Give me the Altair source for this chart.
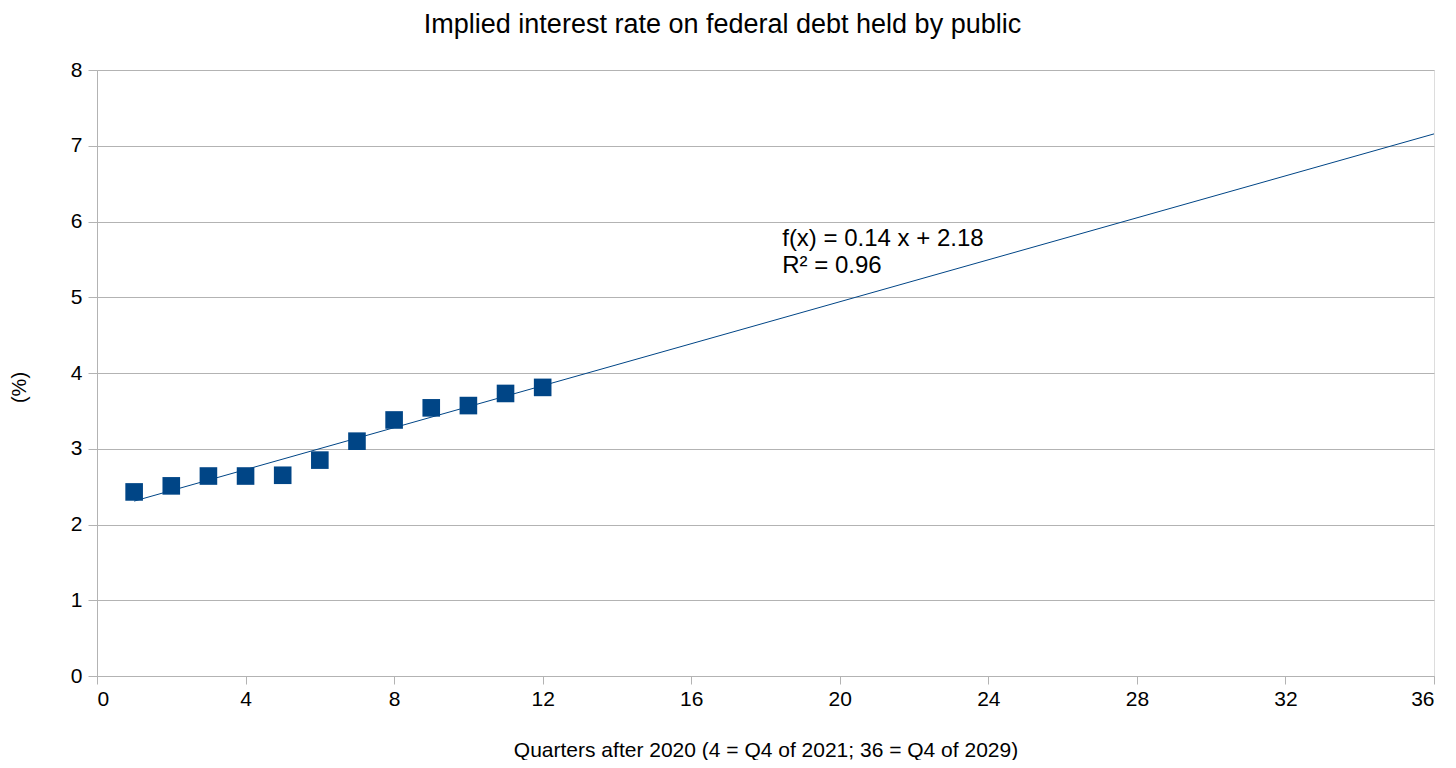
import altair as alt
import pandas as pd

quarters = [1, 2, 3, 4, 5, 6, 7, 8, 9, 10, 11, 12]
rates = [2.43, 2.51, 2.64, 2.64, 2.65, 2.85, 3.10, 3.38, 3.54, 3.57, 3.73, 3.81]

ann_x = [18.45, 18.45]
ann_y = [5.77, 5.41]
ann_text = ["f(x) = 0.14 x + 2.18", "R² = 0.96"]

FONT = "Liberation Sans"
BLUE = "#004586"
GRAY = "#b3b3b3"

df = pd.DataFrame({"q": quarters, "rate": rates})
ann = pd.DataFrame({"x": ann_x, "y": ann_y, "t": ann_text})

xscale = alt.Scale(domain=[0, 36], nice=False, zero=True)
yscale = alt.Scale(domain=[0, 8], nice=False)

xaxis = alt.Axis(
    values=list(range(0, 37, 4)), title="Quarters after 2020 (4 = Q4 of 2021; 36 = Q4 of 2029)",
    format="d", grid=False, tickSize=8, tickColor=GRAY, domainColor=GRAY, labelPadding=4,
    labelFontSize=21, labelFont=FONT, labelColor="black",
    titleFont=FONT, titleFontSize=21, titleFontWeight="normal", titleColor="black",
    titleY=63,
)
yaxis = alt.Axis(
    values=list(range(0, 9)), title="(%)", format="d",
    grid=True, gridColor=GRAY, tickSize=9, tickColor=GRAY, domainColor=GRAY, labelPadding=6,
    labelFontSize=21, labelFont=FONT, labelColor="black",
    titleFont=FONT, titleFontSize=20, titleFontWeight="normal", titleColor="black",
    titleX=-68, titleY=317,
)

points = alt.Chart(df).mark_point(shape="square", filled=True, size=310, color=BLUE, opacity=1).encode(
    x=alt.X("q:Q", scale=xscale, axis=xaxis),
    y=alt.Y("rate:Q", scale=yscale, axis=yaxis),
)

trend = alt.Chart(df).transform_regression("q", "rate", extent=[1, 36]).mark_line(
    color=BLUE, strokeWidth=1
).encode(
    x=alt.X("q:Q", scale=xscale),
    y=alt.Y("rate:Q", scale=yscale),
)

labels = alt.Chart(ann).mark_text(align="left", baseline="middle", font=FONT, fontSize=24, color="black").encode(
    x=alt.X("x:Q", scale=xscale),
    y=alt.Y("y:Q", scale=yscale),
    text="t:N",
)

chart = alt.layer(trend, points, labels).properties(
    width=1337, height=606,
    autosize=alt.AutoSizeParams(type="none"),
    padding={"left": 89, "top": 62, "right": 14, "bottom": 84},
    title=alt.Title(
        "Implied interest rate on federal debt held by public",
        font=FONT, fontSize=27, fontWeight="normal", color="black",
        anchor="middle", offset=20, dx=-43,
    ),
).configure_view(stroke=GRAY, strokeWidth=1).configure(background="white")

chart.save("out.html", embed_options={"renderer": "svg", "actions": False})
